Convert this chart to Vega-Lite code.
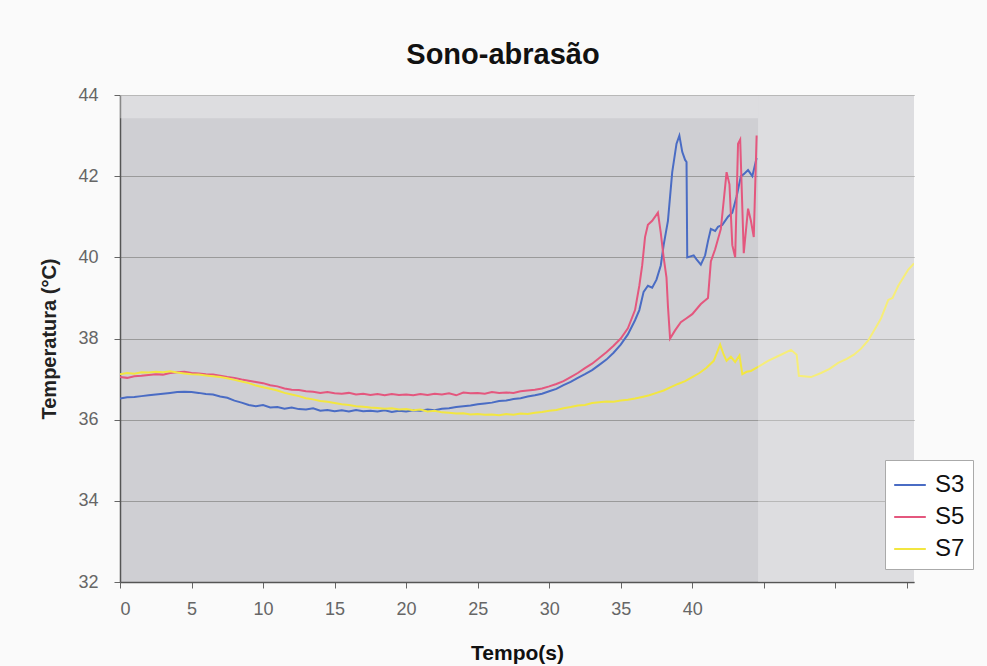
{
  "$schema": "https://vega.github.io/schema/vega-lite/v6.json",
  "width": 794,
  "height": 487,
  "autosize": {"type": "none"},
  "padding": {"left": 120, "top": 95, "right": 73, "bottom": 84},
  "background": "#fafafa",
  "title": {"text": "Sono-abrasão", "font": "Liberation Sans", "fontSize": 29, "fontWeight": "bold", "color": "#111", "anchor": "middle", "dx": -14, "offset": 16},
  "config": {
    "view": {"fill": "#cfcfd3", "stroke": null},
    "font": "Liberation Sans"
  },
  "datasets": {
    "overlay": [
      {"x1": 44.6, "x2": 55.5, "y1": 32, "y2": 44},
      {"x1": 0, "x2": 44.6, "y1": 43.43, "y2": 44}
    ],
    "series": [
      {"s":"S3","t":0,"T":36.52},{"s":"S3","t":0.5,"T":36.55},{"s":"S3","t":1,"T":36.56},{"s":"S3","t":1.5,"T":36.58},{"s":"S3","t":2,"T":36.6},{"s":"S3","t":2.5,"T":36.62},{"s":"S3","t":3,"T":36.64},{"s":"S3","t":3.5,"T":36.66},{"s":"S3","t":4,"T":36.68},{"s":"S3","t":4.5,"T":36.69},{"s":"S3","t":5,"T":36.68},{"s":"S3","t":5.5,"T":36.66},{"s":"S3","t":6,"T":36.63},{"s":"S3","t":6.5,"T":36.62},{"s":"S3","t":7,"T":36.57},{"s":"S3","t":7.5,"T":36.54},{"s":"S3","t":8,"T":36.47},{"s":"S3","t":8.5,"T":36.42},{"s":"S3","t":9,"T":36.36},{"s":"S3","t":9.5,"T":36.33},{"s":"S3","t":10,"T":36.36},{"s":"S3","t":10.5,"T":36.3},{"s":"S3","t":11,"T":36.31},{"s":"S3","t":11.5,"T":36.27},{"s":"S3","t":12,"T":36.3},{"s":"S3","t":12.5,"T":36.26},{"s":"S3","t":13,"T":36.25},{"s":"S3","t":13.5,"T":36.28},{"s":"S3","t":14,"T":36.22},{"s":"S3","t":14.5,"T":36.24},{"s":"S3","t":15,"T":36.21},{"s":"S3","t":15.5,"T":36.23},{"s":"S3","t":16,"T":36.2},{"s":"S3","t":16.5,"T":36.24},{"s":"S3","t":17,"T":36.21},{"s":"S3","t":17.5,"T":36.22},{"s":"S3","t":18,"T":36.2},{"s":"S3","t":18.5,"T":36.23},{"s":"S3","t":19,"T":36.19},{"s":"S3","t":19.5,"T":36.22},{"s":"S3","t":20,"T":36.2},{"s":"S3","t":20.5,"T":36.23},{"s":"S3","t":21,"T":36.22},{"s":"S3","t":21.5,"T":36.25},{"s":"S3","t":22,"T":36.23},{"s":"S3","t":22.5,"T":36.27},{"s":"S3","t":23,"T":36.28},{"s":"S3","t":23.5,"T":36.31},{"s":"S3","t":24,"T":36.33},{"s":"S3","t":24.5,"T":36.35},{"s":"S3","t":25,"T":36.38},{"s":"S3","t":25.5,"T":36.4},{"s":"S3","t":26,"T":36.42},{"s":"S3","t":26.5,"T":36.46},{"s":"S3","t":27,"T":36.47},{"s":"S3","t":27.5,"T":36.51},{"s":"S3","t":28,"T":36.53},{"s":"S3","t":28.5,"T":36.57},{"s":"S3","t":29,"T":36.6},{"s":"S3","t":29.5,"T":36.64},{"s":"S3","t":30,"T":36.7},{"s":"S3","t":30.5,"T":36.76},{"s":"S3","t":31,"T":36.85},{"s":"S3","t":31.5,"T":36.93},{"s":"S3","t":32,"T":37.03},{"s":"S3","t":32.5,"T":37.12},{"s":"S3","t":33,"T":37.22},{"s":"S3","t":33.5,"T":37.35},{"s":"S3","t":34,"T":37.48},{"s":"S3","t":34.5,"T":37.65},{"s":"S3","t":35,"T":37.85},{"s":"S3","t":35.5,"T":38.1},{"s":"S3","t":36,"T":38.45},{"s":"S3","t":36.3,"T":38.7},{"s":"S3","t":36.6,"T":39.15},{"s":"S3","t":36.9,"T":39.3},{"s":"S3","t":37.2,"T":39.25},{"s":"S3","t":37.5,"T":39.45},{"s":"S3","t":37.8,"T":39.8},{"s":"S3","t":38,"T":40.3},{"s":"S3","t":38.3,"T":40.9},{"s":"S3","t":38.6,"T":42.1},{"s":"S3","t":38.9,"T":42.8},{"s":"S3","t":39.1,"T":43},{"s":"S3","t":39.3,"T":42.6},{"s":"S3","t":39.5,"T":42.4},{"s":"S3","t":39.6,"T":42.35},{"s":"S3","t":39.65,"T":40},{"s":"S3","t":40.1,"T":40.05},{"s":"S3","t":40.3,"T":39.95},{"s":"S3","t":40.6,"T":39.82},{"s":"S3","t":40.9,"T":40.05},{"s":"S3","t":41.1,"T":40.4},{"s":"S3","t":41.3,"T":40.7},{"s":"S3","t":41.6,"T":40.65},{"s":"S3","t":41.8,"T":40.75},{"s":"S3","t":42.1,"T":40.8},{"s":"S3","t":42.5,"T":41},{"s":"S3","t":42.8,"T":41.1},{"s":"S3","t":43.1,"T":41.5},{"s":"S3","t":43.4,"T":42},{"s":"S3","t":43.6,"T":42.05},{"s":"S3","t":43.9,"T":42.15},{"s":"S3","t":44.2,"T":42},{"s":"S3","t":44.5,"T":42.45},

      {"s":"S5","t":0,"T":37.05},{"s":"S5","t":0.5,"T":37.03},{"s":"S5","t":1,"T":37.07},{"s":"S5","t":1.5,"T":37.08},{"s":"S5","t":2,"T":37.1},{"s":"S5","t":2.5,"T":37.12},{"s":"S5","t":3,"T":37.11},{"s":"S5","t":3.5,"T":37.15},{"s":"S5","t":4,"T":37.17},{"s":"S5","t":4.5,"T":37.18},{"s":"S5","t":5,"T":37.15},{"s":"S5","t":5.5,"T":37.14},{"s":"S5","t":6,"T":37.12},{"s":"S5","t":6.5,"T":37.11},{"s":"S5","t":7,"T":37.08},{"s":"S5","t":7.5,"T":37.05},{"s":"S5","t":8,"T":37.03},{"s":"S5","t":8.5,"T":36.99},{"s":"S5","t":9,"T":36.96},{"s":"S5","t":9.5,"T":36.93},{"s":"S5","t":10,"T":36.9},{"s":"S5","t":10.5,"T":36.85},{"s":"S5","t":11,"T":36.82},{"s":"S5","t":11.5,"T":36.77},{"s":"S5","t":12,"T":36.74},{"s":"S5","t":12.5,"T":36.73},{"s":"S5","t":13,"T":36.7},{"s":"S5","t":13.5,"T":36.69},{"s":"S5","t":14,"T":36.66},{"s":"S5","t":14.5,"T":36.68},{"s":"S5","t":15,"T":36.65},{"s":"S5","t":15.5,"T":36.64},{"s":"S5","t":16,"T":36.66},{"s":"S5","t":16.5,"T":36.62},{"s":"S5","t":17,"T":36.64},{"s":"S5","t":17.5,"T":36.61},{"s":"S5","t":18,"T":36.63},{"s":"S5","t":18.5,"T":36.6},{"s":"S5","t":19,"T":36.63},{"s":"S5","t":19.5,"T":36.61},{"s":"S5","t":20,"T":36.62},{"s":"S5","t":20.5,"T":36.6},{"s":"S5","t":21,"T":36.63},{"s":"S5","t":21.5,"T":36.61},{"s":"S5","t":22,"T":36.64},{"s":"S5","t":22.5,"T":36.62},{"s":"S5","t":23,"T":36.65},{"s":"S5","t":23.5,"T":36.6},{"s":"S5","t":24,"T":36.67},{"s":"S5","t":24.5,"T":36.65},{"s":"S5","t":25,"T":36.66},{"s":"S5","t":25.5,"T":36.64},{"s":"S5","t":26,"T":36.68},{"s":"S5","t":26.5,"T":36.66},{"s":"S5","t":27,"T":36.67},{"s":"S5","t":27.5,"T":36.66},{"s":"S5","t":28,"T":36.7},{"s":"S5","t":28.5,"T":36.72},{"s":"S5","t":29,"T":36.74},{"s":"S5","t":29.5,"T":36.77},{"s":"S5","t":30,"T":36.82},{"s":"S5","t":30.5,"T":36.88},{"s":"S5","t":31,"T":36.95},{"s":"S5","t":31.5,"T":37.05},{"s":"S5","t":32,"T":37.15},{"s":"S5","t":32.5,"T":37.27},{"s":"S5","t":33,"T":37.38},{"s":"S5","t":33.5,"T":37.52},{"s":"S5","t":34,"T":37.66},{"s":"S5","t":34.5,"T":37.82},{"s":"S5","t":35,"T":38},{"s":"S5","t":35.5,"T":38.25},{"s":"S5","t":36,"T":38.7},{"s":"S5","t":36.3,"T":39.3},{"s":"S5","t":36.5,"T":39.8},{"s":"S5","t":36.7,"T":40.5},{"s":"S5","t":36.9,"T":40.8},{"s":"S5","t":37.2,"T":40.9},{"s":"S5","t":37.6,"T":41.1},{"s":"S5","t":37.8,"T":40.6},{"s":"S5","t":38,"T":40},{"s":"S5","t":38.2,"T":39.5},{"s":"S5","t":38.3,"T":38.8},{"s":"S5","t":38.45,"T":38},{"s":"S5","t":38.8,"T":38.2},{"s":"S5","t":39.2,"T":38.4},{"s":"S5","t":39.6,"T":38.5},{"s":"S5","t":40,"T":38.6},{"s":"S5","t":40.6,"T":38.85},{"s":"S5","t":41.1,"T":39},{"s":"S5","t":41.3,"T":39.9},{"s":"S5","t":41.6,"T":40.2},{"s":"S5","t":42,"T":40.7},{"s":"S5","t":42.2,"T":41.4},{"s":"S5","t":42.4,"T":42.1},{"s":"S5","t":42.6,"T":41.8},{"s":"S5","t":42.8,"T":40.3},{"s":"S5","t":43,"T":40},{"s":"S5","t":43.2,"T":42.8},{"s":"S5","t":43.35,"T":42.9},{"s":"S5","t":43.6,"T":40.1},{"s":"S5","t":43.9,"T":41.2},{"s":"S5","t":44.1,"T":40.9},{"s":"S5","t":44.3,"T":40.5},{"s":"S5","t":44.5,"T":43},

      {"s":"S7","t":0,"T":37.12},{"s":"S7","t":0.5,"T":37.15},{"s":"S7","t":1,"T":37.13},{"s":"S7","t":1.5,"T":37.17},{"s":"S7","t":2,"T":37.16},{"s":"S7","t":2.5,"T":37.18},{"s":"S7","t":3,"T":37.17},{"s":"S7","t":3.5,"T":37.19},{"s":"S7","t":4,"T":37.16},{"s":"S7","t":4.5,"T":37.14},{"s":"S7","t":5,"T":37.12},{"s":"S7","t":5.5,"T":37.11},{"s":"S7","t":6,"T":37.09},{"s":"S7","t":6.5,"T":37.07},{"s":"S7","t":7,"T":37.05},{"s":"S7","t":7.5,"T":37.02},{"s":"S7","t":8,"T":36.98},{"s":"S7","t":8.5,"T":36.94},{"s":"S7","t":9,"T":36.9},{"s":"S7","t":9.5,"T":36.84},{"s":"S7","t":10,"T":36.8},{"s":"S7","t":10.5,"T":36.76},{"s":"S7","t":11,"T":36.72},{"s":"S7","t":11.5,"T":36.66},{"s":"S7","t":12,"T":36.62},{"s":"S7","t":12.5,"T":36.58},{"s":"S7","t":13,"T":36.53},{"s":"S7","t":13.5,"T":36.5},{"s":"S7","t":14,"T":36.46},{"s":"S7","t":14.5,"T":36.44},{"s":"S7","t":15,"T":36.41},{"s":"S7","t":15.5,"T":36.38},{"s":"S7","t":16,"T":36.36},{"s":"S7","t":16.5,"T":36.33},{"s":"S7","t":17,"T":36.32},{"s":"S7","t":17.5,"T":36.3},{"s":"S7","t":18,"T":36.29},{"s":"S7","t":18.5,"T":36.27},{"s":"S7","t":19,"T":36.28},{"s":"S7","t":19.5,"T":36.25},{"s":"S7","t":20,"T":36.26},{"s":"S7","t":20.5,"T":36.23},{"s":"S7","t":21,"T":36.25},{"s":"S7","t":21.5,"T":36.2},{"s":"S7","t":22,"T":36.22},{"s":"S7","t":22.5,"T":36.18},{"s":"S7","t":23,"T":36.17},{"s":"S7","t":23.5,"T":36.15},{"s":"S7","t":24,"T":36.16},{"s":"S7","t":24.5,"T":36.13},{"s":"S7","t":25,"T":36.14},{"s":"S7","t":25.5,"T":36.12},{"s":"S7","t":26,"T":36.13},{"s":"S7","t":26.5,"T":36.11},{"s":"S7","t":27,"T":36.14},{"s":"S7","t":27.5,"T":36.12},{"s":"S7","t":28,"T":36.15},{"s":"S7","t":28.5,"T":36.14},{"s":"S7","t":29,"T":36.17},{"s":"S7","t":29.5,"T":36.19},{"s":"S7","t":30,"T":36.22},{"s":"S7","t":30.5,"T":36.24},{"s":"S7","t":31,"T":36.28},{"s":"S7","t":31.5,"T":36.31},{"s":"S7","t":32,"T":36.35},{"s":"S7","t":32.5,"T":36.36},{"s":"S7","t":33,"T":36.41},{"s":"S7","t":33.5,"T":36.43},{"s":"S7","t":34,"T":36.45},{"s":"S7","t":34.5,"T":36.44},{"s":"S7","t":35,"T":36.47},{"s":"S7","t":35.5,"T":36.49},{"s":"S7","t":36,"T":36.52},{"s":"S7","t":36.5,"T":36.56},{"s":"S7","t":37,"T":36.6},{"s":"S7","t":37.5,"T":36.66},{"s":"S7","t":38,"T":36.72},{"s":"S7","t":38.5,"T":36.8},{"s":"S7","t":39,"T":36.88},{"s":"S7","t":39.5,"T":36.95},{"s":"S7","t":40,"T":37.05},{"s":"S7","t":40.5,"T":37.15},{"s":"S7","t":41,"T":37.28},{"s":"S7","t":41.5,"T":37.45},{"s":"S7","t":41.95,"T":37.85},{"s":"S7","t":42.2,"T":37.6},{"s":"S7","t":42.4,"T":37.45},{"s":"S7","t":42.7,"T":37.55},{"s":"S7","t":43,"T":37.42},{"s":"S7","t":43.3,"T":37.58},{"s":"S7","t":43.5,"T":37.12},{"s":"S7","t":43.8,"T":37.18},{"s":"S7","t":44.1,"T":37.2},{"s":"S7","t":44.6,"T":37.3},{"s":"S7","t":45.3,"T":37.45},{"s":"S7","t":46.2,"T":37.6},{"s":"S7","t":46.9,"T":37.72},{"s":"S7","t":47.3,"T":37.6},{"s":"S7","t":47.45,"T":37.08},{"s":"S7","t":48.3,"T":37.05},{"s":"S7","t":49,"T":37.15},{"s":"S7","t":49.6,"T":37.25},{"s":"S7","t":50.2,"T":37.4},{"s":"S7","t":50.8,"T":37.5},{"s":"S7","t":51.3,"T":37.6},{"s":"S7","t":51.8,"T":37.75},{"s":"S7","t":52.3,"T":37.95},{"s":"S7","t":52.8,"T":38.25},{"s":"S7","t":53.2,"T":38.5},{"s":"S7","t":53.7,"T":38.95},{"s":"S7","t":54,"T":39},{"s":"S7","t":54.4,"T":39.3},{"s":"S7","t":55.1,"T":39.7},{"s":"S7","t":55.5,"T":39.85}
    ]
  },
  "layer": [
    {
      "data": {"name": "series"},
      "mark": {"type": "line", "strokeWidth": 2, "clip": true},
      "encoding": {
        "x": {
          "field": "t", "type": "quantitative",
          "scale": {"domain": [0, 55.5], "nice": false, "zero": false},
          "axis": {
            "title": "Tempo(s)", "values": [0, 5, 10, 15, 20, 25, 30, 35, 40, 45, 50, 55],
            "labelExpr": "datum.value <= 40 ? datum.label : ''",
            "grid": false, "domainColor": "#555", "domainWidth": 1.5,
            "tickColor": "#666", "tickSize": 6, "labelPadding": 12,
            "labelFontSize": 18, "labelColor": "#666", "labelFont": "Liberation Sans",
            "titleFontSize": 21, "titleFontWeight": "bold", "titleColor": "#111", "titlePadding": 24, "titleFont": "Liberation Sans"
          }
        },
        "y": {
          "field": "T", "type": "quantitative",
          "scale": {"domain": [32, 44], "nice": false, "zero": false},
          "axis": {
            "title": "Temperatura (°C)", "values": [32, 34, 36, 38, 40, 42, 44],
            "grid": true, "gridColor": "#9a9a9a", "gridWidth": 1.2,
            "domainColor": "#555", "domainWidth": 1.5,
            "tickColor": "#666", "tickSize": 6, "labelPadding": 16,
            "labelFontSize": 18, "labelColor": "#666", "labelFont": "Liberation Sans",
            "titleFontSize": 20, "titleFontWeight": "bold", "titleColor": "#222", "titlePadding": 18, "titleFont": "Liberation Sans"
          }
        },
        "color": {
          "field": "s", "type": "nominal",
          "scale": {"domain": ["S3", "S5", "S7"], "range": ["#4a6cc4", "#e4577e", "#f2e640"]},
          "legend": {
            "title": null, "orient": "none", "legendX": 765, "legendY": 365,
            "fillColor": "#ffffff", "strokeColor": "#aaa", "padding": 8,
            "symbolType": "stroke", "symbolSize": 1000, "symbolStrokeWidth": 2,
            "labelFontSize": 24, "labelColor": "#111", "labelFont": "Liberation Sans",
            "rowPadding": 3, "labelOffset": 8
          }
        }
      }
    },
    {
      "data": {"name": "overlay"},
      "mark": {"type": "rect", "fill": "#ffffff", "opacity": 0.3},
      "encoding": {
        "x": {"field": "x1", "type": "quantitative"},
        "x2": {"field": "x2"},
        "y": {"field": "y1", "type": "quantitative"},
        "y2": {"field": "y2"}
      }
    }
  ]
}
